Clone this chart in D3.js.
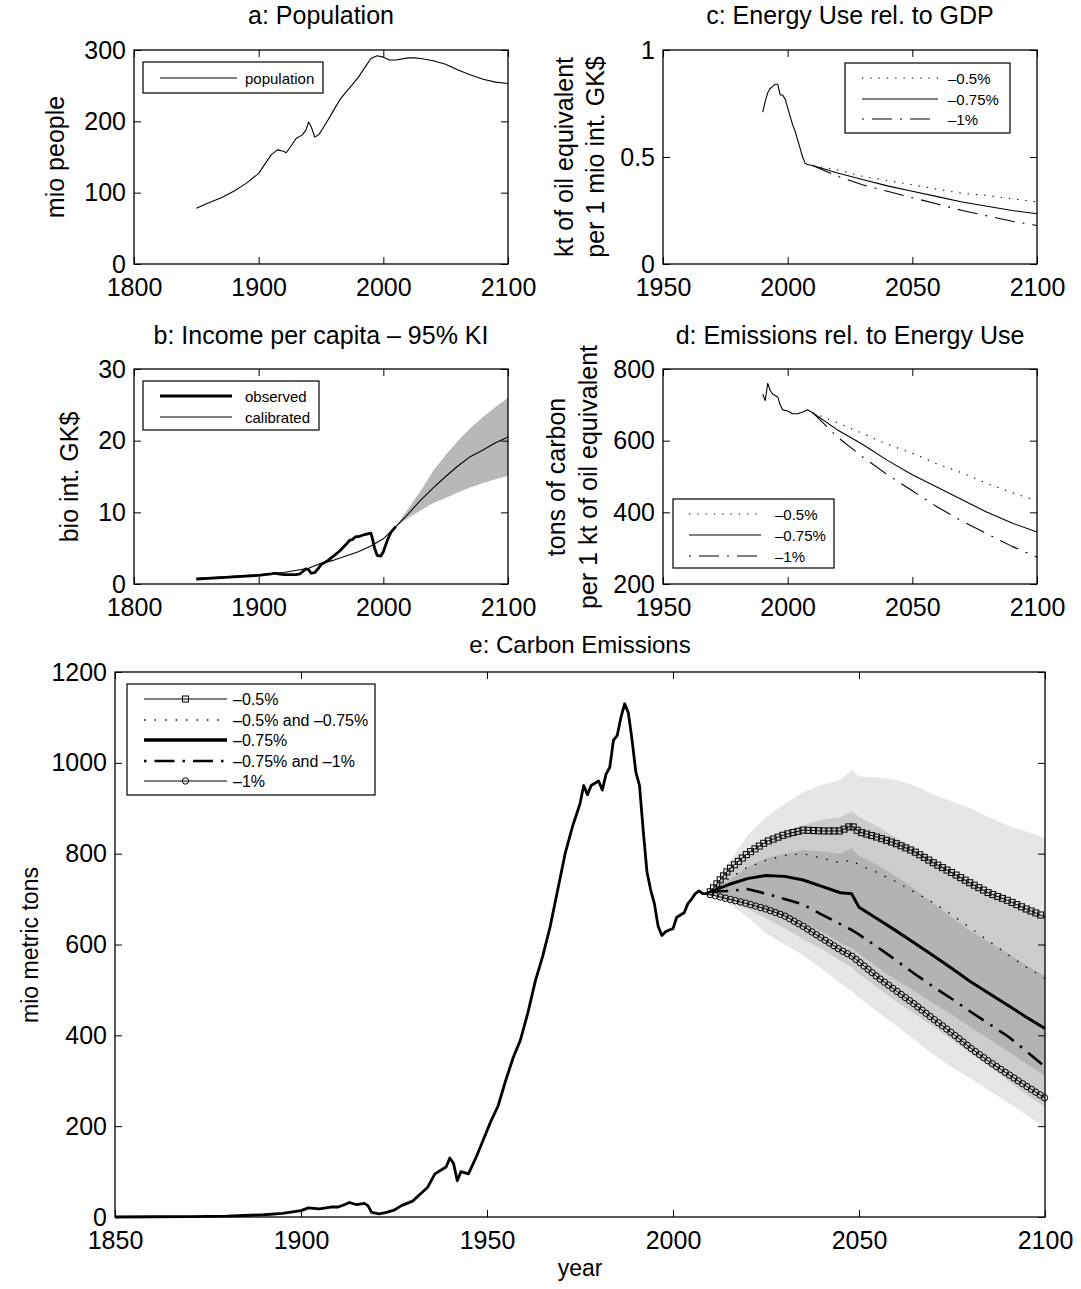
<!DOCTYPE html>
<html>
<head>
<meta charset="utf-8">
<script src="https://cdn.jsdelivr.net/npm/d3@7"></script>
<style>
body { margin: 0; background: #fff; }
svg text { font-family: "Liberation Sans", Arial, Helvetica, sans-serif; fill: #000; }
</style>
</head>
<body>
<svg id="chart" width="1081" height="1289"></svg>
<script>
//Panel a: population
var popYears = [1850,1860,1870,1880,1890,1900,1905,1910,1915,1920,1922,1925,1930,1935,1938,1940,1942,1945,1948,1950,1955,1960,1965,1970,1975,1980,1985,1990,1995,2000,2005,2010,2020,2025,2030,2040,2050,2060,2070,2080,2090,2100];
var popValues = [78,86,93,102,113,127,140,153,160,158,156,163,176,181,188,199,193,178,181,186,200,215,230,241,251,262,275,288,292,290,286,286,289,289,288,285,280,272,265,259,255,253];

//Panel b: income per capita
var incObsYears = [1850,1870,1890,1900,1910,1913,1920,1930,1933,1938,1940,1942,1945,1948,1950,1955,1960,1965,1970,1973,1975,1978,1980,1985,1990,1991,1993,1995,1998,2000,2003,2006,2010];
var incObsValues = [0.7,0.9,1.1,1.2,1.4,1.5,1.3,1.3,1.4,2.1,2.0,1.5,1.6,2.2,2.7,3.2,3.9,4.6,5.5,6.1,6.2,6.6,6.6,6.9,7.1,6.5,5.0,4.0,3.9,4.5,6.0,7.2,8.0];
var incCalYears = [1850,1900,1920,1940,1950,1960,1970,1980,1990,2000,2010,2020,2030,2040,2050,2060,2070,2080,2090,2100];
var incCalValues = [0.75,1.3,1.6,2.2,2.9,3.3,3.9,4.5,5.3,6.3,8.0,9.8,11.7,13.4,15.0,16.5,17.8,18.7,19.7,20.5];
var incBandYears = [2010,2020,2030,2040,2050,2060,2070,2080,2090,2100];
var incBandLow = [8,9.2,10.3,11.3,12.0,12.8,13.5,14.1,14.6,15.1];
var incBandHigh = [8,10.5,13,15.8,18,20,21.8,23.3,24.7,26];

//Panel c: energy use relative to GDP
var energyHistYears = [1990,1991,1992,1993,1994,1995,1996,1997,1998,1999,2000,2001,2002,2003,2004,2005,2006,2007,2008,2010];
var energyHistValues = [0.71,0.76,0.80,0.82,0.83,0.84,0.84,0.79,0.79,0.77,0.73,0.69,0.65,0.62,0.58,0.54,0.50,0.47,0.465,0.46];
var projYears = [2010,2020,2030,2040,2050,2060,2070,2080,2090,2100];
var energy05 = [0.46,0.44,0.41,0.39,0.37,0.35,0.33,0.32,0.305,0.29];
var energy075 = [0.46,0.425,0.395,0.365,0.34,0.315,0.29,0.27,0.25,0.235];
var energy1 = [0.46,0.41,0.37,0.34,0.31,0.28,0.25,0.225,0.2,0.18];

//Panel d: emissions relative to energy use
var emisHistYears = [1990,1991,1992,1993,1994,1996,1997,1998,2000,2002,2004,2006,2008,2010];
var emisHistValues = [730,712,760,740,730,722,700,686,683,675,675,680,686,678];
var emis05 = [678,650,620,590,565,535,510,480,455,432];
var emis075 = [678,630,590,545,505,470,435,400,370,345];
var emis1 = [678,610,555,505,460,415,375,340,305,275];

//Panel e: carbon emissions
var carbonYears = [1850,1860,1870,1880,1890,1895,1900,1902,1905,1908,1910,1912,1913,1915,1917,1918,1919,1921,1923,1925,1927,1930,1932,1934,1936,1938,1939,1940,1941,1942,1943,1945,1947,1949,1951,1953,1955,1957,1959,1961,1963,1965,1967,1969,1971,1973,1975,1976,1977,1978,1980,1981,1982,1983,1984,1985,1986,1987,1988,1989,1990,1991,1992,1993,1994,1995,1996,1997,1998,1999,2000,2001,2002,2003,2004,2005,2006,2007,2008,2009,2010];
var carbonValues = [0,0.5,1,2,5,8,14,20,18,22,22,28,32,27,30,25,10,7,10,15,25,35,50,65,95,105,110,130,118,80,100,95,130,170,210,245,300,350,390,450,520,575,640,720,800,860,910,950,930,950,960,940,975,990,1050,1060,1100,1130,1110,1050,980,950,850,760,720,690,640,620,628,632,635,660,665,670,690,700,712,718,712,712,716];
var scenYears = [2010,2015,2020,2025,2030,2035,2040,2045,2048,2050,2055,2060,2065,2070,2075,2080,2085,2090,2095,2100];
var carb05 = [716,765,800,826,842,852,850,850,862,848,836,822,804,780,758,735,713,697,678,661];
var carb05_075 = [716,745,770,785,796,800,790,780,786,775,758,738,715,692,665,636,607,578,550,525];
var carb075 = [716,732,745,752,750,742,728,714,712,682,656,630,603,575,547,518,492,466,440,415];
var carb075_1 = [716,718,722,712,700,688,666,645,632,622,594,565,535,507,480,452,425,398,365,331];
var carb1 = [710,700,690,678,663,640,614,588,575,562,528,498,468,436,405,372,342,315,288,262];
var bandLightHigh = [716,780,840,880,910,935,952,962,985,970,968,962,950,930,915,900,880,862,848,835];
var bandLightLow = [710,690,660,625,600,576,546,515,498,482,452,421,390,357,330,305,278,252,225,196];
var bandMidHigh = [716,760,790,815,840,862,875,880,893,880,860,835,810,785,760,735,712,692,675,660];
var bandMidLow = [712,695,678,658,635,612,590,565,550,535,505,475,447,419,390,360,333,300,270,243];
var bandDarkHigh = [716,740,770,790,800,808,805,800,812,795,775,750,722,690,660,630,605,580,555,530];
var bandDarkLow = [714,706,695,680,665,648,628,603,592,580,550,522,497,470,445,418,392,365,338,310];

var svg = d3.select("#chart");
var tickFont = 25;
var labelFont = 25;

function zip(xs, ys) {
	return xs.map(function(v, i) { return [v, ys[i]]; });
}

//Create scales for one axes box
function makePanel(box, xDom, yDom) {
	var x = d3.scaleLinear().domain(xDom).range([box.l, box.r]);
	var y = d3.scaleLinear().domain(yDom).range([box.b, box.t]);
	var g = svg.append("g");
	return { x: x, y: y, g: g, box: box };
}

//MATLAB style box with inward ticks on all four sides
function drawAxes(p, xTicks, yTicks) {
	var tl = 7;
	var b = p.box;
	var bottom = p.g.append("g")
		.attr("transform", "translate(0," + b.b + ")")
		.call(d3.axisBottom(p.x).tickValues(xTicks).tickSize(-tl).tickSizeOuter(0).tickPadding(14).tickFormat(d3.format("d")));
	var top = p.g.append("g")
		.attr("transform", "translate(0," + b.t + ")")
		.call(d3.axisTop(p.x).tickValues(xTicks).tickSize(-tl).tickSizeOuter(0).tickFormat(""));
	var left = p.g.append("g")
		.attr("transform", "translate(" + b.l + ",0)")
		.call(d3.axisLeft(p.y).tickValues(yTicks).tickSize(-tl).tickSizeOuter(0).tickPadding(8).tickFormat(d3.format("")));
	var right = p.g.append("g")
		.attr("transform", "translate(" + b.r + ",0)")
		.call(d3.axisRight(p.y).tickValues(yTicks).tickSize(-tl).tickSizeOuter(0).tickFormat(""));
	[bottom, top, left, right].forEach(function(a) {
		a.select(".domain").remove();
		a.selectAll(".tick line").attr("stroke", "#000").attr("stroke-width", 1);
		a.selectAll(".tick text").attr("font-size", tickFont).attr("font-family", null);
	});
	p.g.append("rect")
		.attr("x", b.l).attr("y", b.t)
		.attr("width", b.r - b.l).attr("height", b.b - b.t)
		.attr("fill", "none").attr("stroke", "#000").attr("stroke-width", 1.3);
}

function drawLine(p, pts, stroke, width, dash) {
	var line = d3.line().x(function(d) { return p.x(d[0]); }).y(function(d) { return p.y(d[1]); });
	return p.g.append("path")
		.datum(pts)
		.attr("d", line)
		.attr("fill", "none")
		.attr("stroke", stroke)
		.attr("stroke-width", width)
		.attr("stroke-linejoin", "round")
		.attr("stroke-dasharray", dash || null);
}

function drawBand(p, xs, lo, hi, color) {
	var area = d3.area()
		.x(function(d, i) { return p.x(xs[i]); })
		.y0(function(d, i) { return p.y(lo[i]); })
		.y1(function(d, i) { return p.y(hi[i]); });
	p.g.append("path").datum(xs).attr("d", area).attr("fill", color).attr("stroke", "none");
}

function title(txt, cx, y, fs) {
	svg.append("text").attr("x", cx).attr("y", y).attr("text-anchor", "middle").attr("font-size", fs).text(txt);
}

function yLabel(txt, x, cy, fs) {
	svg.append("text")
		.attr("transform", "translate(" + x + "," + cy + ") rotate(-90)")
		.attr("text-anchor", "middle").attr("dominant-baseline", "central")
		.attr("font-size", fs).text(txt);
}

//Legend: rows of [label, style]
function legend(box, rows, x1, x2, tx, ys, fs) {
	svg.append("rect").attr("x", box.x).attr("y", box.y).attr("width", box.w).attr("height", box.h)
		.attr("fill", "#fff").attr("stroke", "#000").attr("stroke-width", 1.2);
	rows.forEach(function(r, i) {
		svg.append("line").attr("x1", x1).attr("x2", x2).attr("y1", ys[i]).attr("y2", ys[i])
			.attr("stroke", "#000").attr("stroke-width", r.w).attr("stroke-dasharray", r.dash || null);
		if (r.marker) drawMarker(svg, r.marker, (x1 + x2) / 2, ys[i]);
		svg.append("text").attr("x", tx).attr("y", ys[i]).attr("dominant-baseline", "central")
			.attr("font-size", fs).text(r.label);
	});
}

function drawMarker(sel, kind, cx, cy) {
	if (kind === "square") {
		sel.append("rect").attr("x", cx - 3).attr("y", cy - 3).attr("width", 6).attr("height", 6)
			.attr("fill", "none").attr("stroke", "#000").attr("stroke-width", 1);
	} else {
		sel.append("circle").attr("cx", cx).attr("cy", cy).attr("r", 3.2)
			.attr("fill", "none").attr("stroke", "#000").attr("stroke-width", 1);
	}
}

//Markers spaced along a drawn path
function markersAlong(p, path, kind, step) {
	var node = path.node();
	var len = node.getTotalLength();
	var mg = p.g.append("g");
	for (var s = 0; s <= len; s += step) {
		var pt = node.getPointAtLength(s);
		drawMarker(mg, kind, pt.x, pt.y);
	}
}

var dotted = "1.3,7";
var dashDot = "20,8,2,8";
var dashDotThick = "18,8,2.5,8";

//a: Population
var pa = makePanel({ l: 134, r: 508, t: 50, b: 264 }, [1800, 2100], [0, 300]);
drawLine(pa, zip(popYears, popValues), "#000", 1.1);
drawAxes(pa, [1800, 1900, 2000, 2100], [0, 100, 200, 300]);
title("a: Population", 321, 24, labelFont);
yLabel("mio people", 55, 157, labelFont);
legend({ x: 143, y: 62, w: 180, h: 31 }, [{ label: "population", w: 1.1 }], 160, 237, 245, [78], 15);

//c: Energy use rel. to GDP
var pc = makePanel({ l: 663, r: 1037, t: 50, b: 264 }, [1950, 2100], [0, 1]);
drawLine(pc, zip(energyHistYears, energyHistValues), "#000", 1.1);
drawLine(pc, zip(projYears, energy05), "#000", 1.1, dotted);
drawLine(pc, zip(projYears, energy075), "#000", 1.1);
drawLine(pc, zip(projYears, energy1), "#000", 1.1, dashDot);
drawAxes(pc, [1950, 2000, 2050, 2100], [0, 0.5, 1]);
title("c: Energy Use rel. to GDP", 850, 24, labelFont);
yLabel("kt of oil equivalent", 564, 157, labelFont);
yLabel("per 1 mio int. GK$", 595, 157, labelFont);
legend({ x: 845, y: 63, w: 165, h: 70 },
	[{ label: "–0.5%", w: 1.1, dash: dotted }, { label: "–0.75%", w: 1.1 }, { label: "–1%", w: 1.1, dash: "2,8,20,8" }],
	862, 938, 948, [78, 99, 119], 15);

//b: Income per capita
var pb = makePanel({ l: 134, r: 508, t: 369, b: 584 }, [1800, 2100], [0, 30]);
drawBand(pb, incBandYears, incBandLow, incBandHigh, "#b8b8b8");
drawLine(pb, zip(incCalYears, incCalValues), "#000", 1.1);
drawLine(pb, zip(incObsYears, incObsValues), "#000", 2.8);
drawAxes(pb, [1800, 1900, 2000, 2100], [0, 10, 20, 30]);
title("b: Income per capita – 95% KI", 321, 344, labelFont);
yLabel("bio int. GK$", 69, 477, labelFont);
legend({ x: 143, y: 381, w: 176, h: 49 },
	[{ label: "observed", w: 3 }, { label: "calibrated", w: 1.1 }],
	160, 232, 245, [396, 417], 15);

//d: Emissions rel. to energy use
var pd = makePanel({ l: 663, r: 1037, t: 369, b: 584 }, [1950, 2100], [200, 800]);
drawLine(pd, zip(emisHistYears, emisHistValues), "#000", 1.1);
drawLine(pd, zip(projYears, emis05), "#000", 1.1, dotted);
drawLine(pd, zip(projYears, emis075), "#000", 1.1);
drawLine(pd, zip(projYears, emis1), "#000", 1.1, dashDot);
drawAxes(pd, [1950, 2000, 2050, 2100], [200, 400, 600, 800]);
title("d: Emissions rel. to Energy Use", 850, 344, labelFont);
yLabel("tons of carbon", 556, 477, labelFont);
yLabel("per 1 kt of oil equivalent", 588, 477, labelFont);
legend({ x: 673, y: 499, w: 161, h: 69 },
	[{ label: "–0.5%", w: 1.1, dash: dotted }, { label: "–0.75%", w: 1.1 }, { label: "–1%", w: 1.1, dash: "2,8,20,8" }],
	689, 761, 775, [514, 535, 556], 15);

//e: Carbon emissions
var pe = makePanel({ l: 115, r: 1045, t: 672, b: 1217 }, [1850, 2100], [0, 1200]);
drawBand(pe, scenYears, bandLightLow, bandLightHigh, "#e6e6e6");
drawBand(pe, scenYears, bandMidLow, bandMidHigh, "#cccccc");
drawBand(pe, scenYears, bandDarkLow, bandDarkHigh, "#b3b3b3");
var sq = drawLine(pe, zip(scenYears, carb05), "#000", 1);
markersAlong(pe, sq, "square", 5.2);
drawLine(pe, zip(scenYears, carb05_075), "#000", 1.3, "1.5,9");
drawLine(pe, zip(scenYears, carb075), "#000", 3);
drawLine(pe, zip(scenYears, carb075_1), "#000", 2.6, dashDotThick);
var ci = drawLine(pe, zip(scenYears, carb1), "#000", 1);
markersAlong(pe, ci, "circle", 5.2);
drawLine(pe, zip(carbonYears, carbonValues), "#000", 2.8);
drawAxes(pe, [1850, 1900, 1950, 2000, 2050, 2100], [0, 200, 400, 600, 800, 1000, 1200]);
title("e: Carbon Emissions", 580, 653, 24);
yLabel("mio metric tons", 30, 945, 23);
svg.append("text").attr("x", 580).attr("y", 1276).attr("text-anchor", "middle").attr("font-size", 23).text("year");
legend({ x: 127, y: 684, w: 248, h: 111 },
	[{ label: "–0.5%", w: 1, marker: "square" },
	 { label: "–0.5% and –0.75%", w: 1.3, dash: "1.5,9" },
	 { label: "–0.75%", w: 3.5 },
	 { label: "–0.75% and –1%", w: 2.6, dash: "2.5,8,20,8" },
	 { label: "–1%", w: 1, marker: "circle" }],
	144, 227, 233, [699, 720, 740, 761, 781], 16);
</script>
</body>
</html>
